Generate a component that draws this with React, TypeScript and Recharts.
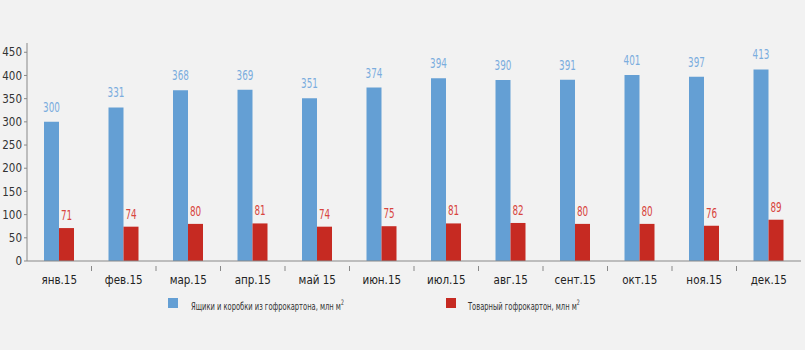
import { BarChart, Bar, XAxis, YAxis, LabelList } from 'recharts';

document.body.style.margin = '0';

const months = ['янв.15', 'фев.15', 'мар.15', 'апр.15', 'май 15', 'июн.15', 'июл.15', 'авг.15', 'сент.15', 'окт.15', 'ноя.15', 'дек.15'];
const boxes = [300, 331, 368, 369, 351, 374, 394, 390, 391, 401, 397, 413];
const board = [71, 74, 80, 81, 74, 75, 81, 82, 80, 80, 76, 89];
const yTicks = [0, 50, 100, 150, 200, 250, 300, 350, 400, 450];

const BOXES_NAME = 'Ящики и коробки из гофрокартона, млн м';
const BOARD_NAME = 'Товарный гофрокартон, млн м';

const data = months.map((m, i) => ({ month: m, boxes: boxes[i], board: board[i] }));

const FONT = "'DejaVu Sans Condensed', 'DejaVu Sans', sans-serif";
const BLUE = '#649fd4';
const RED = '#c62a22';
const W = 805;
const H = 350;
const PLOT_LEFT = 27;
const PLOT_RIGHT = 4;
const BAND = (W - PLOT_LEFT - PLOT_RIGHT) / months.length;
// the original uses a very narrow typeface; squeeze text horizontally to get close
const LABEL_SQUEEZE = 0.7;
const LEGEND_SQUEEZE = 0.68;

// month label + small divider tick on the left edge of every band except the first
const MonthTick = ({ x, y, payload, index }: any) => (
  <g>
    {index > 0 && (
      <line x1={x - BAND / 2} x2={x - BAND / 2} y1={y - 3} y2={y + 2} stroke="#888" strokeWidth={1} />
    )}
    <text x={x} y={y + 15} textAnchor="middle" fill="#222" fontSize={11.5} fontFamily={FONT}>
      {payload.value}
    </text>
  </g>
);

const makeValueLabel = (color: string, offset: number) => (props: any) => {
  const { x, y, width, value } = props;
  const cx = x + width / 2;
  return (
    <text
      transform={`translate(${cx},${y - offset}) scale(${LABEL_SQUEEZE},1)`}
      textAnchor="middle"
      fill={color}
      fontSize={14}
      fontFamily={FONT}
    >
      {value}
    </text>
  );
};

const legendText: React.CSSProperties = {
  display: 'inline-block',
  transform: `scaleX(${LEGEND_SQUEEZE})`,
  transformOrigin: 'left center',
  whiteSpace: 'nowrap',
  marginTop: 3,
};

export default function App() {
  return (
    <div style={{ position: 'relative', width: W, height: H, background: '#f2f2f2' }}>
      <BarChart
        width={W}
        height={H}
        data={data}
        margin={{ top: 43, right: PLOT_RIGHT, left: 0, bottom: 69 }}
        barGap={0}
        barSize={15}
      >
        <YAxis
          width={PLOT_LEFT}
          domain={[0, 470]}
          ticks={yTicks}
          interval={0}
          tickSize={3}
          tickLine={{ stroke: '#888' }}
          axisLine={{ stroke: '#888' }}
          tick={{ fill: '#333', fontSize: 11.5, fontFamily: FONT }}
        />
        <XAxis
          dataKey="month"
          height={20}
          interval={0}
          tickLine={false}
          axisLine={{ stroke: '#888' }}
          tick={<MonthTick />}
        />
        <Bar dataKey="boxes" fill={BLUE} isAnimationActive={false}>
          <LabelList dataKey="boxes" content={makeValueLabel('#7badde', 10)} />
        </Bar>
        <Bar dataKey="board" fill={RED} isAnimationActive={false}>
          <LabelList dataKey="board" content={makeValueLabel('#d8453e', 8)} />
        </Bar>
      </BarChart>
      <div
        style={{
          position: 'absolute',
          top: 293,
          left: 168,
          display: 'flex',
          fontFamily: FONT,
          fontSize: 11,
          color: '#333',
          lineHeight: '14px',
        }}
      >
        <div style={{ display: 'flex', alignItems: 'center', width: 278 }}>
          <span style={{ width: 10, height: 10, background: BLUE, marginRight: 13 }} />
          <span style={legendText}>
            {BOXES_NAME}
            <sup style={{ fontSize: 7.5 }}>2</sup>
          </span>
        </div>
        <div style={{ display: 'flex', alignItems: 'center' }}>
          <span style={{ width: 10, height: 10, background: RED, marginRight: 12 }} />
          <span style={legendText}>
            {BOARD_NAME}
            <sup style={{ fontSize: 7.5 }}>2</sup>
          </span>
        </div>
      </div>
    </div>
  );
}
